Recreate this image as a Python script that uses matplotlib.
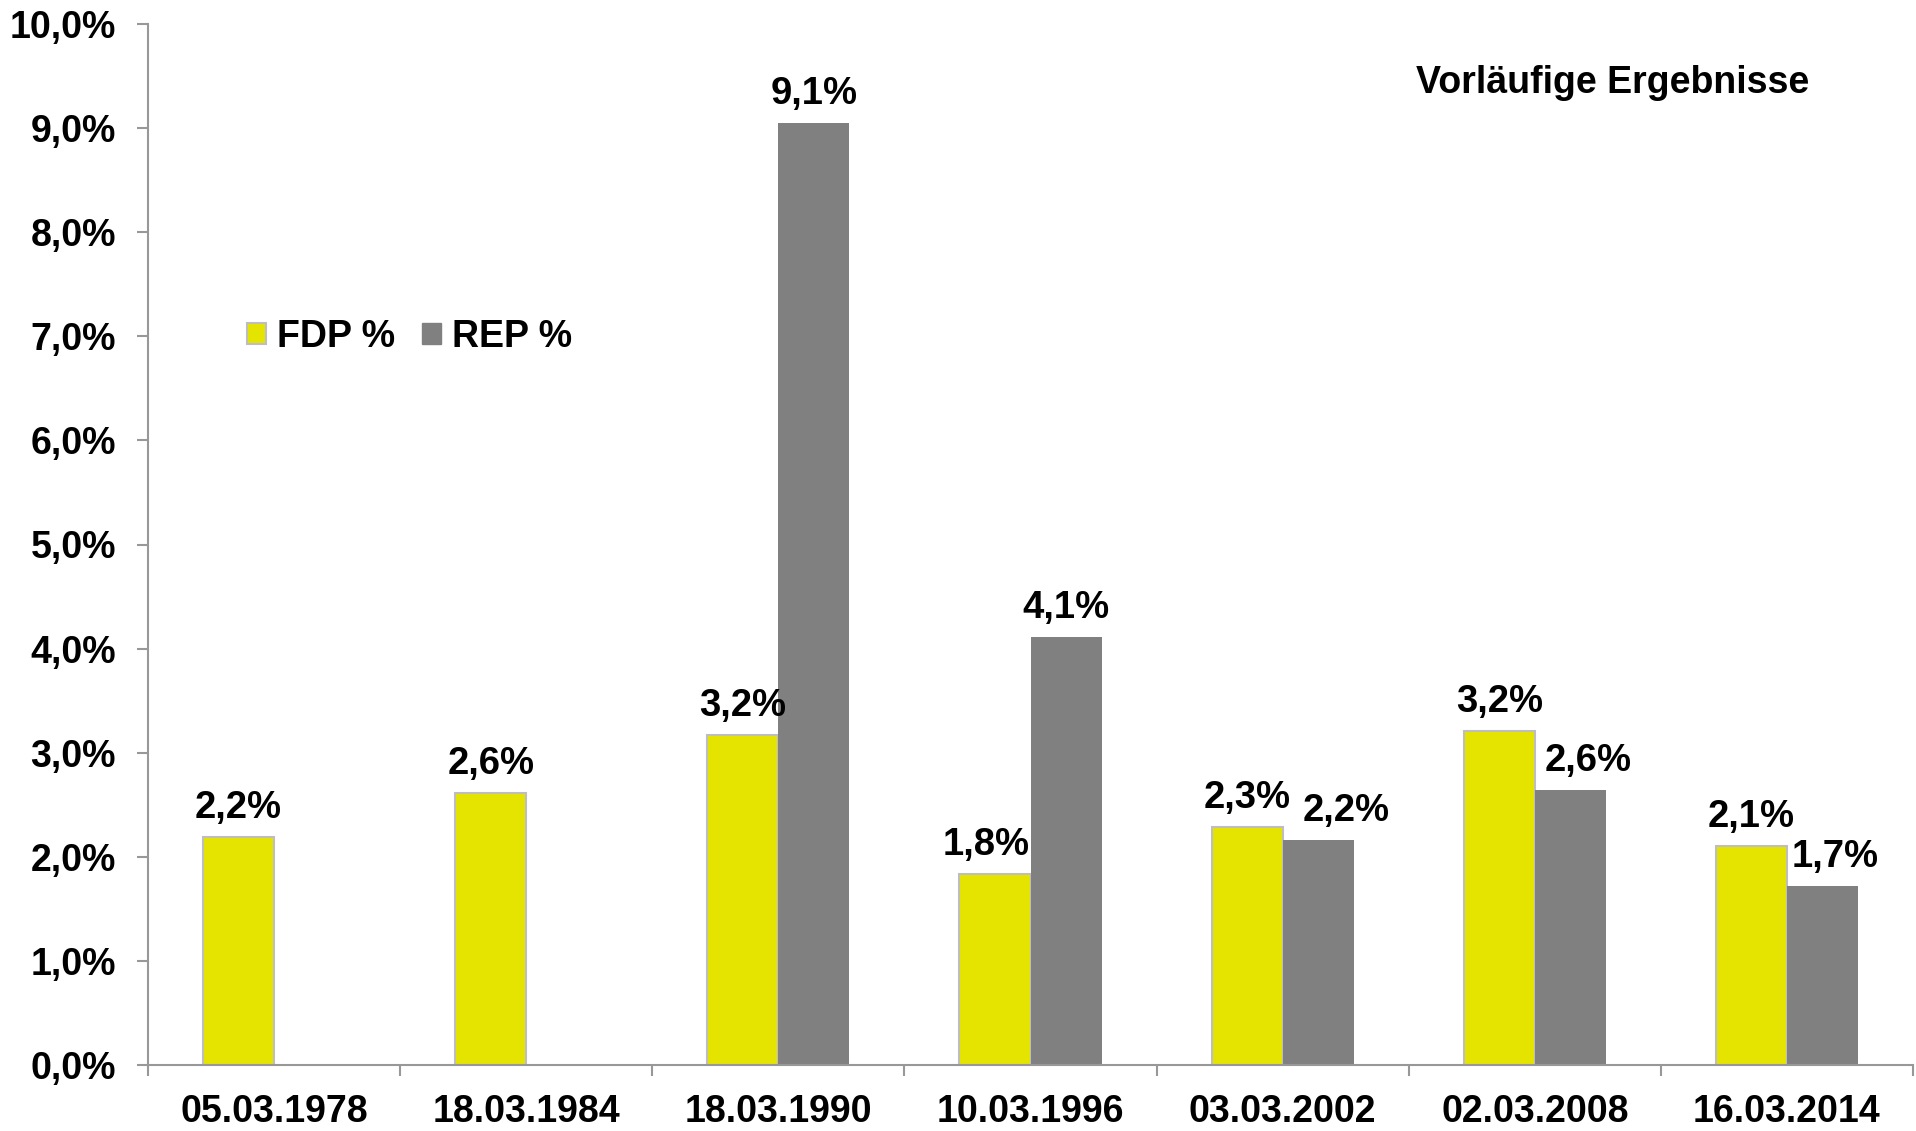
import matplotlib
matplotlib.use("Agg")
import matplotlib.pyplot as plt
from matplotlib.patches import Patch
import numpy as np

# Wahltermine und Ergebnisse (vorläufig)
dates = ["05.03.1978", "18.03.1984", "18.03.1990", "10.03.1996",
         "03.03.2002", "02.03.2008", "16.03.2014"]
fdp = [2.19, 2.61, 3.17, 1.83, 2.29, 3.21, 2.10]
rep = [np.nan, np.nan, 9.05, 4.11, 2.16, 2.64, 1.72]
fdp_labels = ["2,2%", "2,6%", "3,2%", "1,8%", "2,3%", "3,2%", "2,1%"]
rep_labels = ["", "", "9,1%", "4,1%", "2,2%", "2,6%", "1,7%"]
series_names = ["FDP %", "REP %"]
title = "Vorläufige Ergebnisse"

# manual label nudges (pixels), as in the original
fdp_dx = [0, 0, 0, -9, 0, 0, 0]
rep_dx = [0, 0, 0, 0, 28, 18, 13]

YELLOW = "#E5E400"
GREY = "#808080"
EDGE = "#BEBEBE"
AXIS = "#989898"
FS = 27
FS_BAR = 27.5

plt.rcParams["font.family"] = ["Liberation Sans", "DejaVu Sans"]
plt.rcParams["font.weight"] = "bold"

fig = plt.figure(figsize=(19.16, 11.31), dpi=100)
ax = fig.add_axes([148/1916, 1-1065/1131, (1913-148)/1916, (1065-24)/1131])

x = np.arange(len(dates))
w = 0.282
b1 = ax.bar(x - w/2, fdp, w, color=YELLOW, edgecolor=EDGE, linewidth=1.5, zorder=2)
b2 = ax.bar(x + w/2, rep, w, color=GREY, edgecolor=GREY, linewidth=0, zorder=2)

px = 72/100  # pixel -> point
for bars, labs, dx in ((b1, fdp_labels, fdp_dx), (b2, rep_labels, rep_dx)):
    for r, lab, d in zip(bars, labs, dx):
        if not lab:
            continue
        ax.annotate(lab, (r.get_x() + r.get_width()/2, r.get_height()),
                    xytext=(d*px, 19*px), textcoords="offset points",
                    ha="center", va="baseline", fontsize=FS_BAR, fontweight="bold")

ax.set_xlim(-0.5, len(dates) - 0.5)
ax.set_ylim(0, 10)
ax.set_yticks(np.arange(0, 11, 1))
ax.set_yticklabels([f"{v:.1f}%".replace(".", ",") for v in range(11)])
ax.set_xticks(np.arange(-0.5, len(dates), 1))
ax.set_xticklabels([])
ax.set_xticks(x, minor=True)
ax.set_xticklabels(dates, minor=True)

for s in ("top", "right"):
    ax.spines[s].set_visible(False)
for s in ("left", "bottom"):
    ax.spines[s].set_color(AXIS)
    ax.spines[s].set_linewidth(1.5)
ax.tick_params(axis="y", direction="out", length=8, width=1.5, color=AXIS,
               labelsize=FS, pad=15)
ax.tick_params(axis="x", which="major", direction="out", length=8, width=1.5, color=AXIS)
ax.tick_params(axis="x", which="minor", length=0, labelsize=FS, pad=21)
for lab in ax.get_xticklabels(minor=True) + ax.get_yticklabels():
    lab.set_fontweight("bold")

handles = [Patch(facecolor=YELLOW, edgecolor=EDGE, linewidth=1.5),
           Patch(facecolor=GREY, edgecolor=GREY)]
fig.legend(handles, series_names, loc="center left",
           bbox_to_anchor=(247/1916, 1-337/1131), frameon=False, ncol=2,
           borderpad=0, borderaxespad=0, handlelength=0.5, handleheight=0.5,
           handletextpad=0.3, columnspacing=0.72,
           prop={"size": FS, "weight": "bold"})

fig.text(1809/1916, 1-93/1131, title, ha="right", va="baseline",
         fontsize=FS, fontweight="bold")

fig.savefig("out.png", dpi=100, facecolor="white")
